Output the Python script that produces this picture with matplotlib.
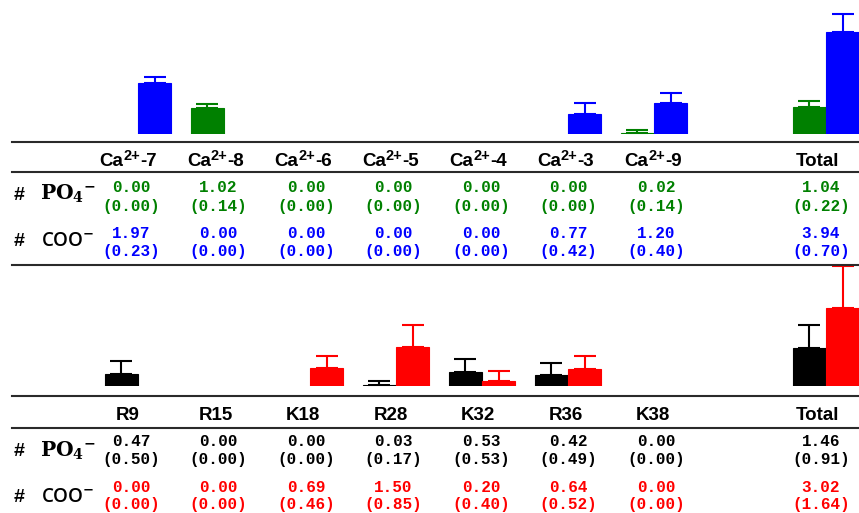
import numpy as np
import matplotlib
matplotlib.use("Agg")
import matplotlib.pyplot as plt
from matplotlib.lines import Line2D

# ---- data: mean number of contacts (standard deviation) ----
ion_sites = ["Ca2+-7", "Ca2+-8", "Ca2+-6", "Ca2+-5",
             "Ca2+-4", "Ca2+-3", "Ca2+-9", "Total"]
ion_po4 = [0.00, 1.02, 0.00, 0.00, 0.00, 0.00, 0.02, 1.04]
ion_po4_sd = [0.00, 0.14, 0.00, 0.00, 0.00, 0.00, 0.14, 0.22]
ion_coo = [1.97, 0.00, 0.00, 0.00, 0.00, 0.77, 1.20, 3.94]
ion_coo_sd = [0.23, 0.00, 0.00, 0.00, 0.00, 0.42, 0.40, 0.70]

residues = ["R9", "R15", "K18", "R28", "K32", "R36", "K38", "Total"]
res_po4 = [0.47, 0.00, 0.00, 0.03, 0.53, 0.42, 0.00, 1.46]
res_po4_sd = [0.50, 0.00, 0.00, 0.17, 0.53, 0.49, 0.00, 0.91]
res_coo = [0.00, 0.00, 0.69, 1.50, 0.20, 0.64, 0.00, 3.02]
res_coo_sd = [0.00, 0.00, 0.46, 0.85, 0.40, 0.52, 0.00, 1.64]

# ---- layout (pixels) ----
W, H = 859, 513
fig = plt.figure(figsize=(W / 100, H / 100), dpi=100)
renderer = fig.canvas.get_renderer()


def fx(px):
    return px / W


def fy(py):
    return 1 - py / H


PX_PER_UNIT = 25.8
GROUP_PX0, GROUP_STEP = 138, 86
BAR_W = 0.384
xpos = np.r_[np.arange(7), 8].astype(float)
col_px = list(131 + 87.5 * np.arange(7)) + [821]
HEAD_SHIFT = -3

MONO = "Liberation Mono"
HEAD = "Liberation Sans"
HEAD_SIZE = 13.5


def hline(py):
    fig.add_artist(Line2D([fx(12), 1.0], [fy(py), fy(py)],
                          transform=fig.transFigure, lw=1.5, color="#2a2a2a"))


def header(cx, base, label):
    """Column header, with the ion charge set as a raised superscript."""
    kw = dict(va="baseline", fontweight="bold", family=HEAD, ha="left")
    if "2+" in label:
        main, tail = label.split("2+")
        parts = [(main, HEAD_SIZE, 0), ("2+", 10.5, 6.5), (tail, HEAD_SIZE, 0)]
    else:
        parts = [(label, HEAD_SIZE, 0)]
    texts = [fig.text(0, fy(base) + rise / H, s, fontsize=sz, **kw)
             for s, sz, rise in parts]
    widths = [t.get_window_extent(renderer).width for t in texts]
    x = cx - sum(widths) / 2
    for t, w in zip(texts, widths):
        t.set_x(fx(x))
        x += w


def panel(base_px, top_px, labels, v1, e1, v2, e2, c1, c2,
          line_px, head_base, val_bases, row_bases):
    ax = fig.add_axes([0, fy(base_px), 1, (base_px - top_px) / H])
    ax.set_xlim(-GROUP_PX0 / GROUP_STEP, (W - GROUP_PX0) / GROUP_STEP)
    ax.set_ylim(0, (base_px - top_px) / PX_PER_UNIT)
    ax.axis("off")
    ax.patch.set_alpha(0)
    for vals, errs, col, shift in ((v1, e1, c1, -BAR_W / 2),
                                   (v2, e2, c2, BAR_W / 2)):
        vals = np.asarray(vals)
        errs = np.asarray(errs)
        lw = [0.8 if v > 0 else 0 for v in vals]
        ax.bar(xpos + shift, vals, width=BAR_W, color=col,
               edgecolor=col, linewidth=lw)
        m = errs > 0
        ax.errorbar(xpos[m] + shift, vals[m],
                    yerr=[np.zeros(m.sum()), errs[m]], fmt="none",
                    ecolor=col, elinewidth=1.5, capsize=8, capthick=1.5,
                    clip_on=False)

    for py in line_px:
        hline(py)

    for cx, lab in zip(col_px, labels):
        header(cx + HEAD_SHIFT, head_base, lab)

    for vals, errs, col, (b1, b2) in ((v1, e1, c1, val_bases[0]),
                                      (v2, e2, c2, val_bases[1])):
        for cx, v, e in zip(col_px, vals, errs):
            fig.text(fx(cx), fy(b1), f"{v:.2f}", ha="center", va="baseline",
                     fontsize=11.5, fontweight="bold", family=MONO, color=col)
            fig.text(fx(cx), fy(b2), f"({e:.2f})", ha="center",
                     va="baseline", fontsize=11.5, fontweight="bold",
                     family=MONO, color=col)

    r1, r2 = row_bases
    for rb in (r1, r2):
        fig.text(fx(14), fy(rb), "#", ha="left", va="baseline",
                 fontsize=14, fontweight="bold", family=HEAD)
    fig.text(fx(40), fy(r1), r"PO$_{\mathbf{4}}$$^{\mathbf{-}}$", ha="left",
             va="baseline", fontsize=14.5, fontweight="bold",
             family="DejaVu Serif", math_fontfamily="dejavuserif")
    fig.text(fx(41), fy(r2), r"COO$^{\mathbf{-}}$", ha="left",
             va="baseline", fontsize=13.5, fontweight="semibold",
             family="Open Sans", math_fontfamily="dejavusans")


panel(134, 0, ion_sites, ion_po4, ion_po4_sd, ion_coo, ion_coo_sd,
      "#008000", "#0000ff", (142, 172, 265), 166.5,
      ((191.5, 211), (238, 256)), (199.5, 245.5))

panel(386, 250, residues, res_po4, res_po4_sd, res_coo, res_coo_sd,
      "#000000", "#ff0000", (396, 428), 420.5,
      ((446.5, 464), (492, 509)), (456.5, 502))

fig.savefig("out.png", dpi=100)
